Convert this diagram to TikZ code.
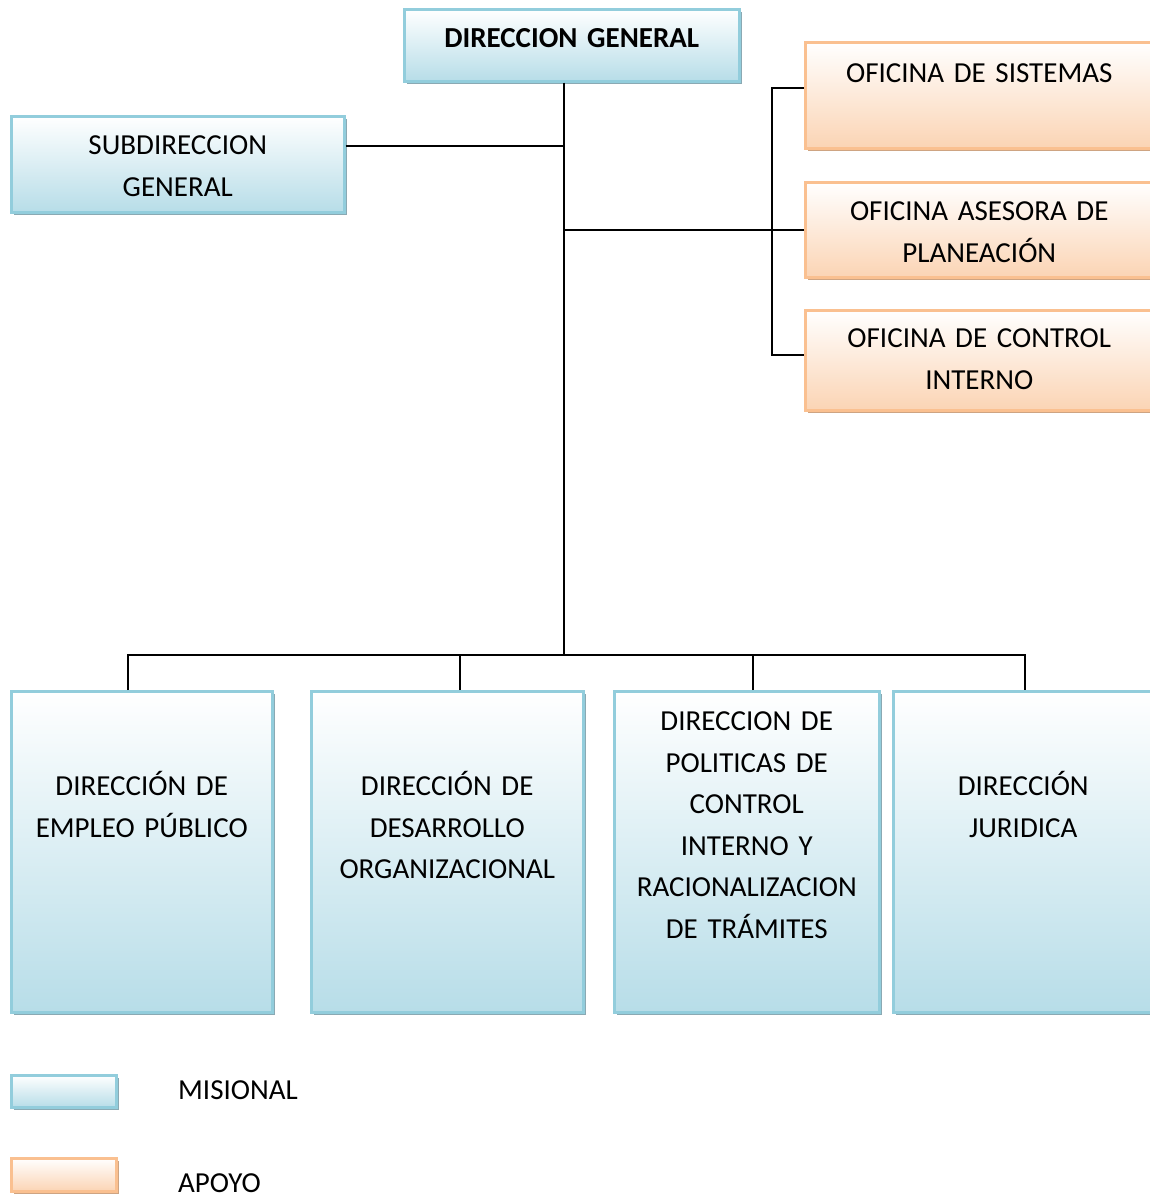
\documentclass[tikz,border=0pt]{standalone}
\usepackage{fontspec}
\setmainfont{Carlito}
\usetikzlibrary{shadows}

\definecolor{misfondo}{RGB}{183,221,232}
\definecolor{misborde}{RGB}{146,205,220}
\definecolor{missombra}{RGB}{138,169,179}
\definecolor{apofondo}{RGB}{251,212,180}
\definecolor{apoborde}{RGB}{250,192,144}
\definecolor{aposombra}{RGB}{206,164,130}

\newcommand{\cajafont}{\fontsize{29}{41.5}\selectfont}

\tikzset{
  caja/.style={draw, line width=2.5pt, inner sep=0pt, align=center,
    anchor=north west, font=\cajafont},
  misional/.style={caja, draw=misborde, top color=white, bottom color=misfondo,
    drop shadow={shadow xshift=3pt, shadow yshift=-3pt, fill=missombra, opacity=1}},
  apoyo/.style={caja, draw=apoborde, top color=white, bottom color=apofondo,
    drop shadow={shadow xshift=3pt, shadow yshift=-3pt, fill=aposombra, opacity=1}},
  conn/.style={draw=black, line width=2pt},
  leyenda/.style={anchor=base west, inner sep=0pt, font=\cajafont}
}

\begin{document}
\begin{tikzpicture}[x=1pt, y=-1pt]

  \useasboundingbox (0,0) rectangle (1150,1197);
  \clip (0,0) rectangle (1150,1197);

  % Define nodes
  \node[misional, text width=335pt, text height=38pt, text depth=34pt] (dg) at (403,8) {\textbf{DIRECCION GENERAL}};
  \node[misional, text width=333pt, text height=38.5pt, text depth=57.5pt] (sub) at (10,115) {SUBDIRECCION\\GENERAL};

  \node[apoyo, text width=348pt, text height=40.5pt, text depth=65.5pt] (ofs) at (804,41) {OFICINA DE SISTEMAS};
  \node[apoyo, text width=348pt, text height=38.5pt, text depth=56.5pt] (ases) at (804,181) {OFICINA ASESORA DE\\PLANEACIÓN};
  \node[apoyo, text width=348pt, text height=37.5pt, text depth=62.5pt] (ctrl) at (804,309) {OFICINA DE CONTROL\\INTERNO};

  \node[misional, text width=261pt, text height=104.5pt, text depth=216.5pt] (emp) at (10,690) {DIRECCIÓN DE\\EMPLEO PÚBLICO};
  \node[misional, text width=272pt, text height=104.5pt, text depth=216.5pt] (des) at (310,690) {DIRECCIÓN DE\\DESARROLLO\\ORGANIZACIONAL};
  \node[misional, text width=265pt, text height=39.5pt, text depth=281.5pt] (pol) at (613,690) {DIRECCION DE\\POLITICAS DE\\CONTROL\\INTERNO Y\\RACIONALIZACION\\DE TRÁMITES};
  \node[misional, text width=260pt, text height=104.5pt, text depth=216.5pt] (jur) at (892,690) {DIRECCIÓN\\JURIDICA};

  % Legend
  \node[misional, text width=105pt, text height=32pt, text depth=0pt] (lmis) at (10,1074) {};
  \node[apoyo, text width=105pt, text height=33pt, text depth=0pt] (lapo) at (10,1157) {};
  \node[leyenda] (tmis) at (178,1099.5) {MISIONAL};
  \node[leyenda] (tapo) at (178,1192) {APOYO};

  % Connect the nodes
  \coordinate (bus) at (563,655);
  \draw[conn] ([xshift=-8pt]dg.south) -- ([xshift=-8pt]dg.south |- bus);
  \draw[conn] ([yshift=18pt]sub.east) -- ([yshift=18pt]sub.east -| bus);
  \draw[conn] (ases.west) -- (ases.west -| bus);
  \draw[conn] ([yshift=7pt]ofs.west) -- ++(-32,0) |- ([yshift=5pt]ctrl.west);
  \draw[conn] ([xshift=-14pt]emp.north) |- (bus) -| ([xshift=2pt]jur.north);
  \draw[conn] ([xshift=13pt]des.north) -- ([xshift=13pt]des.north |- bus);
  \draw[conn] ([xshift=6pt]pol.north) -- ([xshift=6pt]pol.north |- bus);

\end{tikzpicture}
\end{document}
